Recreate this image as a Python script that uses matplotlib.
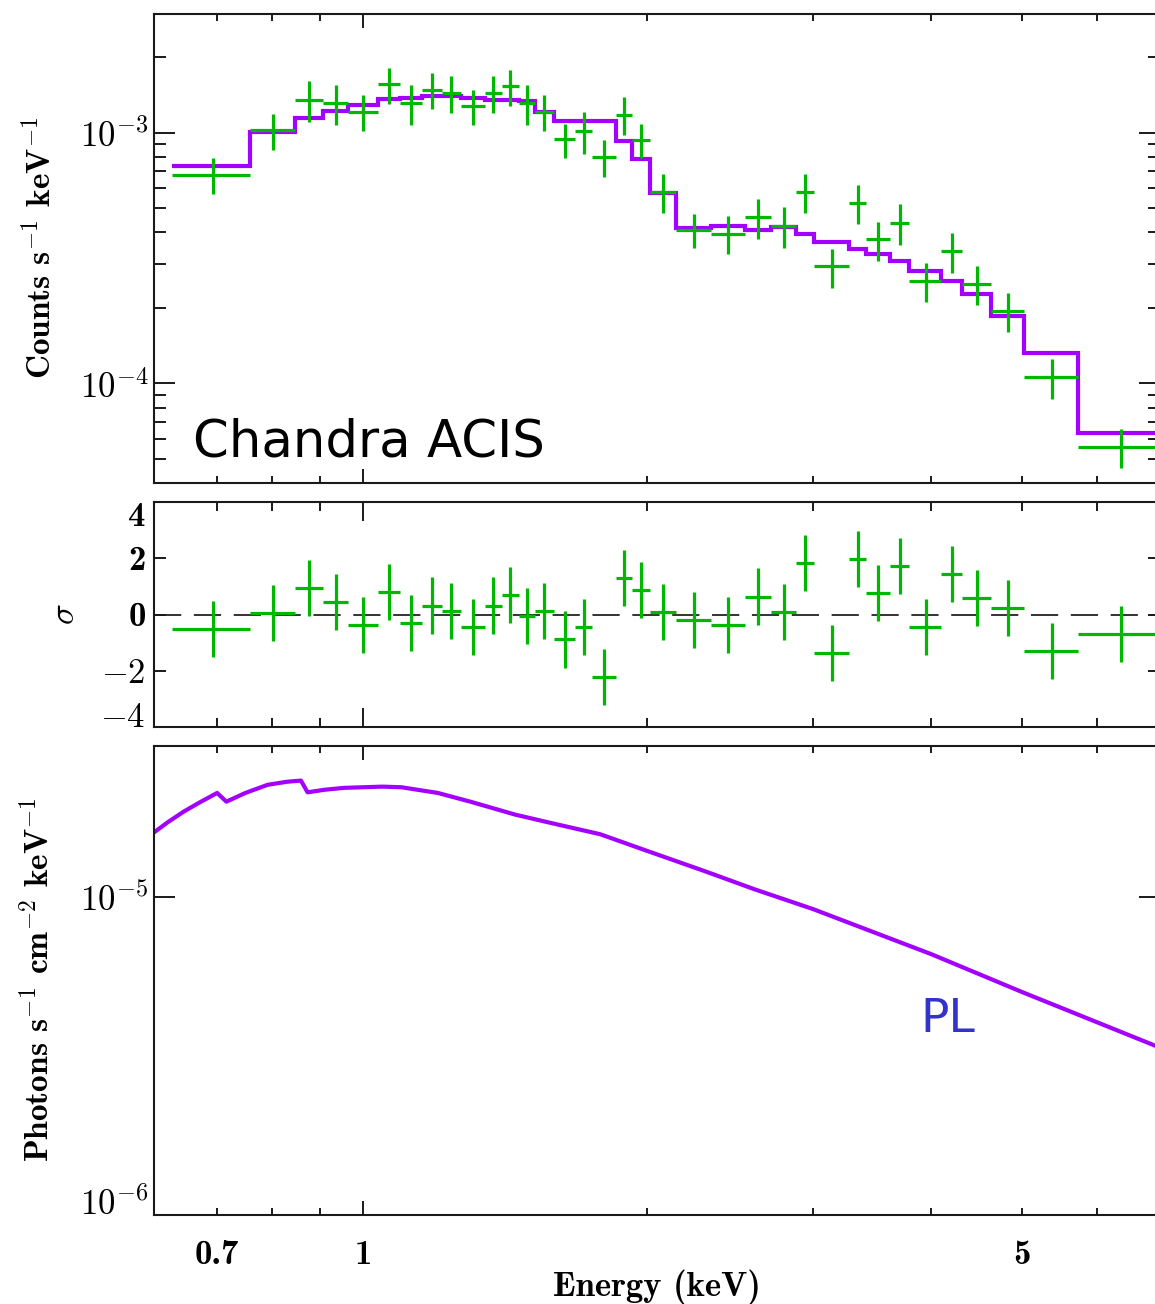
import numpy as np
import matplotlib
matplotlib.use("Agg")
import matplotlib.pyplot as plt
from matplotlib.ticker import FixedLocator, NullLocator, FixedFormatter, NullFormatter

plt.rcParams["mathtext.fontset"] = "cm"
plt.rcParams["font.family"] = "cmb10"
plt.rcParams["axes.formatter.use_mathtext"] = True

# ---------------- data ----------------
# channel grouping (keV), 35 bins
bin_edges = [0.627, 0.759, 0.8465, 0.9057, 0.9640, 1.0366, 1.0938, 1.1534, 1.2114,
             1.2695, 1.3462, 1.4023, 1.4618, 1.5212, 1.5923, 1.6786, 1.7506, 1.8538,
             1.9263, 2.0164, 2.1470, 2.3366, 2.5408, 2.7050, 2.8778, 3.0070, 3.2753,
             3.4140, 3.6203, 3.7967, 4.1011, 4.3170, 4.6344, 5.0224, 5.7253, 7.0]

# observed count rate (counts/s/keV) and 1-sigma errors
count_rate = [6.8e-4, 1.02e-3, 1.355e-3, 1.315e-3, 1.21e-3, 1.557e-3, 1.31e-3, 1.483e-3,
              1.437e-3, 1.28e-3, 1.44e-3, 1.527e-3, 1.315e-3, 1.21e-3, 9.4e-4, 1.016e-3,
              8.0e-4, 1.18e-3, 9.37e-4, 5.82e-4, 4.1e-4, 3.96e-4, 4.6e-4, 4.26e-4,
              5.82e-4, 2.93e-4, 5.25e-4, 3.75e-4, 4.38e-4, 2.57e-4, 3.37e-4, 2.5e-4,
              1.95e-4, 1.058e-4, 5.58e-5]
count_err = [1.13e-4, 1.70e-4, 2.48e-4, 2.38e-4, 1.98e-4, 2.52e-4, 2.33e-4, 2.45e-4,
             2.40e-4, 2.04e-4, 2.42e-4, 2.55e-4, 2.38e-4, 1.98e-4, 1.46e-4, 1.92e-4,
             1.37e-4, 2.05e-4, 1.42e-4, 1.05e-4, 6.3e-5, 6.8e-5, 8.4e-5, 7.8e-5,
             1.05e-4, 5.2e-5, 9.1e-5, 6.7e-5, 8.0e-5, 4.6e-5, 6.05e-5, 4.5e-5,
             3.5e-5, 1.92e-5, 9.9e-6]

# folded power-law model per bin
model_rate = [7.36e-4, 1.006e-3, 1.144e-3, 1.216e-3, 1.293e-3, 1.357e-3, 1.379e-3, 1.399e-3,
              1.399e-3, 1.374e-3, 1.353e-3, 1.353e-3, 1.332e-3, 1.208e-3, 1.109e-3, 1.109e-3,
              1.109e-3, 9.23e-4, 7.88e-4, 5.74e-4, 4.18e-4, 4.24e-4, 4.08e-4, 4.21e-4,
              3.93e-4, 3.65e-4, 3.43e-4, 3.27e-4, 3.08e-4, 2.80e-4, 2.55e-4, 2.28e-4,
              1.86e-4, 1.317e-4, 6.32e-5]

# residuals in units of sigma
residual = [-0.53, 0.04, 0.94, 0.44, -0.39, 0.80, -0.29, 0.32, 0.13, -0.46, 0.32, 0.69,
            -0.04, 0.13, -0.89, -0.46, -2.22, 1.30, 0.86, 0.10, -0.20, -0.39, 0.64, 0.10,
            1.85, -1.37, 1.97, 0.76, 1.73, -0.44, 1.44, 0.58, 0.23, -1.30, -0.70]
residual_err = [1.0] * 35

# unfolded absorbed power-law photon spectrum
pl_energy = [0.600, 0.620, 0.645, 0.671, 0.700, 0.716, 0.750, 0.792, 0.830, 0.859, 0.873,
             0.910, 0.954, 1.000, 1.048, 1.098, 1.200, 1.299, 1.450, 1.600, 1.783,
             1.850, 2.000, 2.300, 2.600, 3.0, 4.0, 5.0, 6.92]
pl_flux = [1.60e-5, 1.72e-5, 1.86e-5, 1.99e-5, 2.13e-5, 2.00e-5, 2.13e-5, 2.26e-5,
           2.31e-5, 2.33e-5, 2.14e-5, 2.18e-5, 2.21e-5, 2.22e-5, 2.23e-5, 2.22e-5,
           2.13e-5, 2.00e-5, 1.82e-5, 1.70e-5, 1.58e-5, 1.52e-5, 1.40e-5, 1.21e-5,
           1.06e-5, 9.18e-6, 6.63e-6, 5.03e-6, 3.41e-6]

x_ticks_minor = [0.6, 0.7, 0.8, 0.9, 2, 3, 4, 5, 6, 7]
x_tick_labels = {0.7: "0.7", 5: "5"}

# ---------------- style ----------------
GREEN = "#00b800"
PURPLE = "#a300ff"
INK = "#1a1a1a"
W, H = 1155, 1304
XMIN, XMAX = 0.6, 7.0

fig = plt.figure(figsize=(W / 100, H / 100), dpi=100)


def add_panel(top_px, bottom_px):
    left_px, right_px = 154, 1160
    return fig.add_axes([left_px / W, 1 - bottom_px / H,
                         (right_px - left_px) / W, (bottom_px - top_px) / H])


ax1 = add_panel(14, 483.3)
ax2 = add_panel(502.3, 726.7)
ax3 = add_panel(745.7, 1215)

edges = np.array(bin_edges)
centers = 0.5 * (edges[:-1] + edges[1:])
xerr = [centers - edges[:-1], edges[1:] - centers]


def style_x(ax, major_len, minor_len, labels):
    ax.set_xscale("log")
    ax.set_xlim(XMIN, XMAX)
    ax.xaxis.set_major_locator(FixedLocator([1]))
    ax.xaxis.set_minor_locator(FixedLocator(x_ticks_minor))
    if labels:
        ax.xaxis.set_major_formatter(FixedFormatter(["1"]))
        ax.xaxis.set_minor_formatter(
            FixedFormatter([x_tick_labels.get(v, "") for v in x_ticks_minor]))
    else:
        ax.xaxis.set_major_formatter(NullFormatter())
        ax.xaxis.set_minor_formatter(NullFormatter())
    for which, ln in (("major", major_len), ("minor", minor_len)):
        ax.tick_params(axis="x", which=which, length=ln, width=1.4,
                       direction="in", top=True, bottom=True, color=INK,
                       labelsize=25, pad=18)
    for s in ax.spines.values():
        s.set_linewidth(1.5)
        s.set_color(INK)


# ---------------- top: counts spectrum ----------------
ax1.stairs(model_rate, edges, baseline=None, color=PURPLE, linewidth=3.0, zorder=2)
ax1.errorbar(centers, count_rate, xerr=xerr, yerr=count_err, fmt="none",
             ecolor=GREEN, elinewidth=2.3, capsize=0, zorder=3)
ax1.set_yscale("log")
ax1.set_ylim(4.0e-5, 2.97e-3)
style_x(ax1, 10, 5, False)
ax1.yaxis.set_major_locator(FixedLocator([1e-4, 1e-3]))
ax1.yaxis.set_major_formatter(FixedFormatter([r"$\mathbf{10^{-4}}$", r"$\mathbf{10^{-3}}$"]))
ax1.yaxis.set_minor_locator(FixedLocator(
    [5e-5, 6e-5, 7e-5, 8e-5, 9e-5, 2e-4, 3e-4, 4e-4, 5e-4, 6e-4, 7e-4, 8e-4, 9e-4, 2e-3]))
ax1.yaxis.set_minor_formatter(NullFormatter())
ax1.tick_params(axis="y", which="major", length=15, width=1.4, direction="in",
                left=True, right=True, color=INK, labelsize=25, pad=4)
ax1.tick_params(axis="y", which="minor", length=8.6, width=1.4, direction="in",
                left=True, right=True, color=INK)
fig.text(193 / W, 1 - 457 / H, "Chandra ACIS", family="DejaVu Sans",
         fontsize=37, ha="left", va="baseline", color="black")

# ---------------- middle: residuals ----------------
ax2.axhline(0, color="#333333", linewidth=1.4, dashes=(14, 6.5), zorder=1)
ax2.errorbar(centers, residual, xerr=xerr, yerr=residual_err, fmt="none",
             ecolor=GREEN, elinewidth=2.3, capsize=0, zorder=3)
ax2.set_ylim(-4, 4)
style_x(ax2, 13.7, 6.7, False)
ax2.set_yticks([-4, -2, 0, 2, 4],
               labels=[r"$\mathbf{-4}$", r"$\mathbf{-2}$", "0", "2", "4"])
ax2.yaxis.set_minor_locator(NullLocator())
ax2.tick_params(axis="y", which="major", length=8.4, width=1.4, direction="in",
                left=True, right=True, color=INK, labelsize=25, pad=6)
yt = ax2.yaxis.get_major_ticks()
yt[0].label1.set_verticalalignment("baseline")
yt[-1].label1.set_verticalalignment("top")

# ---------------- bottom: unfolded model ----------------
ax3.plot(pl_energy, pl_flux, color=PURPLE, linewidth=3.0, solid_joinstyle="round")
ax3.set_yscale("log")
ax3.set_ylim(1e-6, 3e-5)
style_x(ax3, 10, 5, True)
ax3.yaxis.set_major_locator(FixedLocator([1e-6, 1e-5]))
ax3.yaxis.set_major_formatter(FixedFormatter([r"$\mathbf{10^{-6}}$", r"$\mathbf{10^{-5}}$"]))
ax3.yaxis.set_minor_locator(NullLocator())
ax3.tick_params(axis="y", which="major", length=15, width=1.4, direction="in",
                left=True, right=True, color=INK, labelsize=25, pad=4)
ax3.yaxis.get_major_ticks()[0].label1.set_verticalalignment("baseline")
fig.text(920 / W, 1 - 1032 / H, "PL", family="DejaVu Sans", fontsize=34,
         ha="left", va="baseline", color="#3333cc")

# ---------------- axis titles ----------------
fig.text(40 / W, 1 - 248 / H, r"Counts s$^{\mathbf{-1}}$ keV$^{\mathbf{-1}}$", rotation=90,
         ha="center", va="center", fontsize=24)
fig.text(66 / W, 1 - 614 / H, r"$\sigma$", rotation=90,
         ha="center", va="center", fontsize=25)
fig.text(38 / W, 1 - 980 / H,
         r"Photons s$^{\mathbf{-1}}$ cm$^{\mathbf{-2}}$ keV$^{\mathbf{-1}}$", rotation=90,
         ha="center", va="center", fontsize=24)
fig.text(657 / W, 1 - 1287 / H, "Energy (keV)", ha="center", va="center", fontsize=25)

fig.savefig("out.png", dpi=100)
